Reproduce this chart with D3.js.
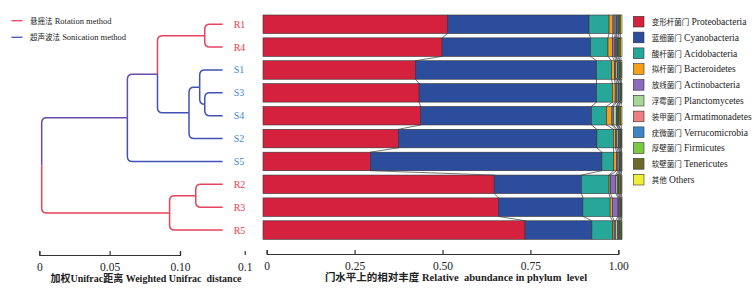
<!DOCTYPE html>
<html>
<head>
<meta charset="utf-8">
<script src="https://cdn.jsdelivr.net/npm/d3@7"></script>
<style>
  body { margin: 0; background: #fff; }
  text { font-family: "Liberation Serif", "Times New Roman", "Noto Sans CJK SC", serif; }
</style>
</head>
<body>
<svg id="chart" width="756" height="289"></svg>
<script>
// samples, top to bottom (dendrogram leaf order)
const samples = ["R1", "R4", "S1", "S3", "S4", "S2", "S5", "R2", "R3", "R5"]
const sampleGroup = ["R", "R", "S", "S", "S", "S", "S", "R", "R", "R"]

// phyla (stack order) + legend labels
const phylaCn = ["变形杆菌门", "蓝细菌门", "酸杆菌门", "拟杆菌门", "放线菌门", "浮霉菌门", "装甲菌门", "疣微菌门", "厚壁菌门", "软壁菌门", "其他"]
const phylaEn = ["Proteobacteria", "Cyanobacteria", "Acidobacteria", "Bacteroidetes", "Actinobacteria", "Planctomycetes", "Armatimonadetes", "Verrucomicrobia", "Firmicutes", "Tenericutes", "Others"]
const phylaColors = ["#d4213d", "#2c4c9c", "#27a79a", "#f5a01a", "#8a6bbd", "#a8d898", "#ee8080", "#3f86c6", "#7ac943", "#6b6b2a", "#eeee3a"]

// relative abundance per sample (rows follow samples, columns follow phyla)
const abundance = [
  [0.514, 0.394, 0.056, 0.011, 0.006, 0.003, 0.002, 0.004, 0.002, 0.004, 0.004],
  [0.499, 0.413, 0.049, 0.012, 0.006, 0.003, 0.002, 0.004, 0.003, 0.005, 0.004],
  [0.425, 0.504, 0.042, 0.008, 0.004, 0.004, 0.002, 0.004, 0.002, 0.003, 0.002],
  [0.435, 0.494, 0.044, 0.008, 0.004, 0.004, 0.002, 0.004, 0.002, 0.002, 0.001],
  [0.439, 0.476, 0.042, 0.015, 0.004, 0.008, 0.002, 0.003, 0.002, 0.006, 0.003],
  [0.377, 0.553, 0.046, 0.006, 0.004, 0.004, 0.002, 0.003, 0.002, 0.002, 0.001],
  [0.299, 0.645, 0.033, 0.008, 0.004, 0.003, 0.002, 0.002, 0.002, 0.001, 0.001],
  [0.644, 0.243, 0.077, 0.004, 0.015, 0.004, 0.003, 0.002, 0.003, 0.003, 0.002],
  [0.656, 0.235, 0.076, 0.006, 0.016, 0.002, 0.003, 0.002, 0.002, 0.002, 0.000],
  [0.730, 0.186, 0.058, 0.004, 0.004, 0.006, 0.003, 0.003, 0.003, 0.002, 0.001]
]

// dendrogram merges: [node, childA, childB, position on the distance axis]
const leafPos = 0.1303
const merges = [
  ["n1", "R1", "R4", 0.1176],
  ["n2", "S3", "S4", 0.1176],
  ["n3", "S1", "n2", 0.114],
  ["n4", "n3", "S2", 0.1064],
  ["n5", "n1", "n4", 0.084],
  ["n6", "n5", "S5", 0.0626],
  ["n7", "R2", "R3", 0.1112],
  ["n8", "n7", "R5", 0.0926],
  ["root", "n6", "n8", 0.0017]
]

const distTicks = [0, 0.05, 0.1, 0.146]
const distTickLabels = ["0", "0.05", "0.10", "0.1"]
const abTicks = [0, 0.25, 0.5, 0.75, 1]
const abTickLabels = ["0", "0.25", "0.50", "0.75", "1.00"]

const legendGroups = [["悬摇法", "Rotation method"], ["超声波法", "Sonication method"]]

const RED = "#e6435c", BLUE = "#4352b6", PURPLE = "#6a4aae"
const groupColor = { R: RED, S: BLUE, M: PURPLE }

const svg = d3.select("#chart")

// scales
const y = d3.scaleBand().domain(samples).range([15, 239.3]).paddingInner(0.19).paddingOuter(0)
const xBar = d3.scaleLinear().domain([0, 1]).range([263, 622])
const xAb = d3.scaleLinear().domain([0, 1]).range([266.7, 618.3])
const xDist = d3.scaleLinear().domain([0, 0.1]).range([39.3, 180])

// ---------- dendrogram ----------
const nodes = new Map()
samples.forEach((s, i) => nodes.set(s, { x: xDist(leafPos), y: y(s) + y.bandwidth() / 2, grp: sampleGroup[i] }))
for (let [name, a, b, pos] of merges) {
  const na = nodes.get(a), nb = nodes.get(b)
  nodes.set(name, { x: xDist(pos), y: (na.y + nb.y) / 2, grp: na.grp === nb.grp ? na.grp : "M" })
}

const r = 5
const links = []
for (let [name, a, b] of merges) {
  const p = nodes.get(name)
  for (let c of [nodes.get(a), nodes.get(b)]) links.push({ p, c })
}
const dend = svg.append("g")
dend.selectAll("path.link").data(links).enter().append("path")
  .attr("class", "link")
  .attr("d", (d) => {
    const s = d.c.y > d.p.y ? 1 : -1
    return `M${d.p.x},${d.p.y} V${d.c.y - s * r} Q${d.p.x},${d.c.y} ${d.p.x + r},${d.c.y} H${d.c.x}`
  })
  .attr("fill", "none")
  .attr("stroke", (d) => groupColor[d.c.grp])
  .attr("stroke-width", 1.5)

dend.selectAll("text.leaf").data(samples).enter().append("text")
  .attr("class", "leaf")
  .attr("x", xDist(leafPos) + 11)
  .attr("y", (d) => y(d) + y.bandwidth() / 2 + 3.5)
  .attr("font-size", 10)
  .attr("fill", (d, i) => (sampleGroup[i] === "R" ? "#ee3b48" : "#3a8ad2"))
  .text((d) => d)

// group legend
const gl = svg.append("g").selectAll("g").data(legendGroups).enter().append("g")
  .attr("transform", (d, i) => `translate(0,${20.7 + i * 16.6})`)
gl.append("line").attr("x1", 11.5).attr("x2", 22.5).attr("stroke", (d, i) => (i === 0 ? RED : BLUE)).attr("stroke-width", 1.3)
const glt = gl.append("text").attr("x", 30).attr("y", 3).attr("font-size", 8.5).attr("fill", "#222")
glt.append("tspan").attr("font-size", 7.5).text((d) => d[0])
glt.append("tspan").text((d) => " " + d[1])

// distance axis
const axL = svg.append("g").attr("transform", "translate(0,255)")
  .call(d3.axisBottom(xDist).tickValues(distTicks).tickFormat((d, i) => distTickLabels[i]).tickSize(-4).tickPadding(8))
axL.selectAll("path,line").attr("stroke", "#333").attr("stroke-width", 1.2)
axL.selectAll("text").attr("font-size", 11.5).attr("fill", "#222").attr("font-family", null)
svg.append("text").attr("x", 146).attr("y", 282).attr("text-anchor", "middle")
  .attr("font-size", 10).attr("font-weight", "bold").attr("fill", "#222")
  .attr("xml:space", "preserve")
  .text("加权Unifrac距离 Weighted Unifrac  distance")

// ---------- stacked bars ----------
const cum = abundance.map((row) => {
  const c = [0]
  row.forEach((v) => c.push(c[c.length - 1] + v))
  return c.map((v) => v / c[c.length - 1])
})

const bars = svg.append("g")
const rows = bars.selectAll("g.row").data(samples).enter().append("g").attr("class", "row")
rows.selectAll("rect").data((d, i) => phylaColors.map((col, k) => ({ s: d, x0: cum[i][k], x1: cum[i][k + 1], col })))
  .enter().append("rect")
  .attr("x", (d) => xBar(d.x0))
  .attr("y", (d) => y(d.s))
  .attr("width", (d) => Math.max(0, xBar(d.x1) - xBar(d.x0)))
  .attr("height", y.bandwidth())
  .attr("fill", (d) => d.col)
  .attr("stroke", "#333")
  .attr("stroke-width", 0.6)

// connecting lines between neighbouring bars
const conn = []
for (let i = 0; i < samples.length - 1; i++) {
  for (let k = 1; k < phylaColors.length; k++) {
    conn.push({ x0: cum[i][k], y0: y(samples[i]) + y.bandwidth(), x1: cum[i + 1][k], y1: y(samples[i + 1]) })
  }
}
bars.selectAll("line.conn").data(conn).enter().append("line")
  .attr("class", "conn")
  .attr("x1", (d) => xBar(d.x0)).attr("y1", (d) => d.y0)
  .attr("x2", (d) => xBar(d.x1)).attr("y2", (d) => d.y1)
  .attr("stroke", "#3a3a3a").attr("stroke-width", 0.7)

// abundance axis
const axR = svg.append("g").attr("transform", "translate(0,254)")
  .call(d3.axisBottom(xAb).tickValues(abTicks).tickFormat((d, i) => abTickLabels[i]).tickSize(-4).tickPadding(8))
axR.selectAll("path,line").attr("stroke", "#333").attr("stroke-width", 1.2)
axR.selectAll("text").attr("font-size", 11.5).attr("fill", "#222").attr("font-family", null)
svg.append("text").attr("x", 456).attr("y", 281).attr("text-anchor", "middle")
  .attr("font-size", 10.5).attr("font-weight", "bold").attr("fill", "#222")
  .attr("xml:space", "preserve")
  .text("门水平上的相对丰度 Relative  abundance in phylum  level")

// phylum legend
const leg = svg.append("g").selectAll("g").data(phylaEn).enter().append("g")
  .attr("transform", (d, i) => `translate(633.3,${21.7 + i * 15.8})`)
leg.append("rect").attr("x", 0).attr("y", -5.4).attr("width", 10.7).attr("height", 10.7)
  .attr("fill", (d, i) => phylaColors[i]).attr("stroke", "#333").attr("stroke-width", 0.6)
const lt = leg.append("text").attr("x", 18.4).attr("y", 3.3).attr("font-size", 9.5).attr("fill", "#222")
lt.append("tspan").attr("font-size", 7.5).text((d, i) => phylaCn[i])
lt.append("tspan").text((d) => " " + d)
</script>
</body>
</html>
